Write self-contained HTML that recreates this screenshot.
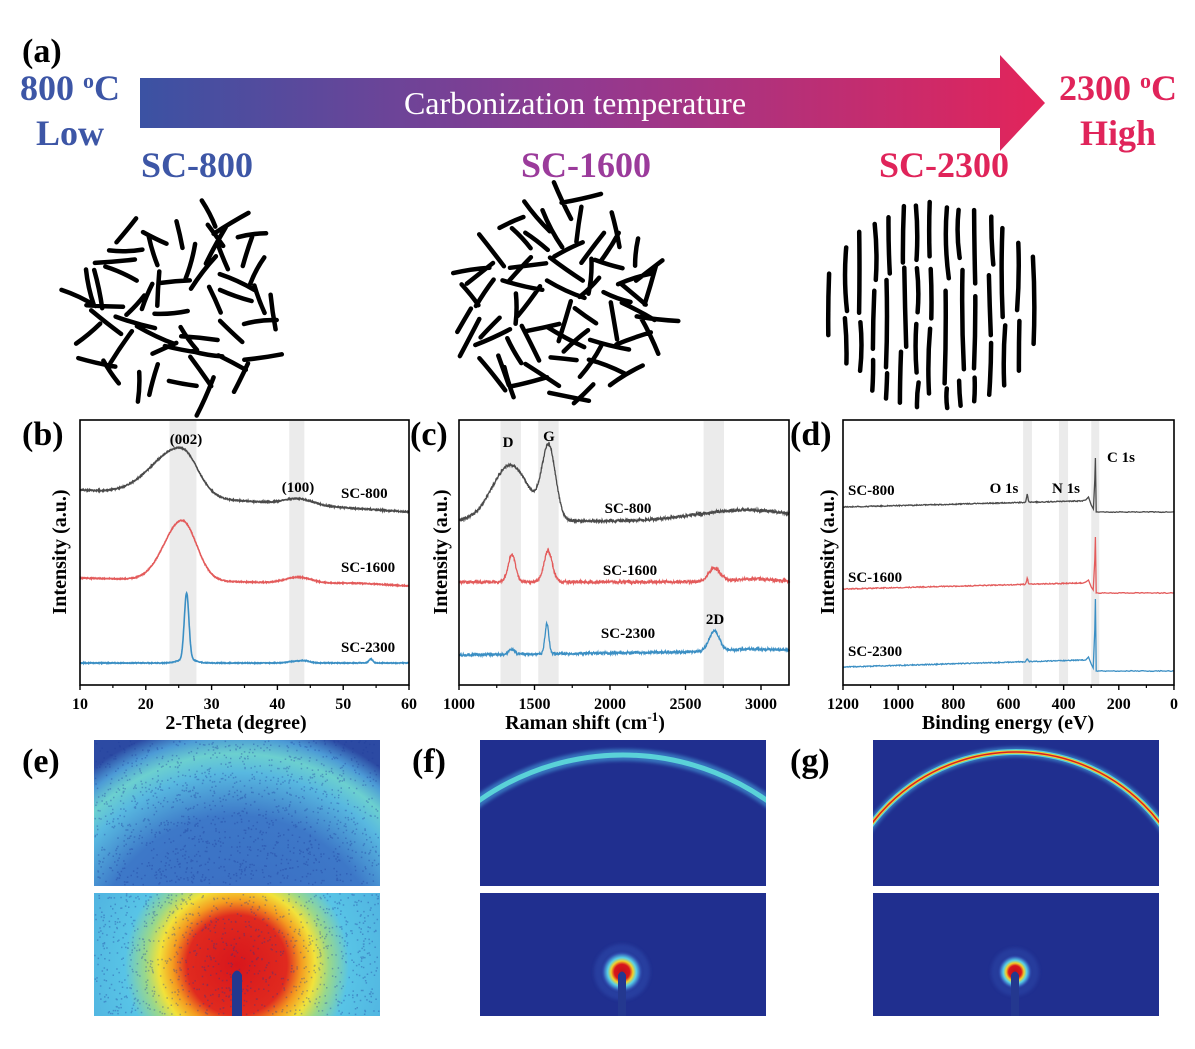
<!DOCTYPE html>
<html><head><meta charset="utf-8"><style>
html,body{margin:0;padding:0;background:#fff;width:1195px;height:1049px;overflow:hidden}
svg{display:block}
svg text{font-family:"Liberation Serif",serif;font-weight:bold}
</style></head><body>
<svg id="s" width="1195" height="1049" viewBox="0 0 1195 1049" xmlns="http://www.w3.org/2000/svg">
<defs>
<linearGradient id="ag" x1="140" x2="1045" y1="0" y2="0" gradientUnits="userSpaceOnUse">
<stop offset="0" stop-color="#3b52a3"/><stop offset="0.5" stop-color="#93398f"/><stop offset="1" stop-color="#e3245a"/></linearGradient>
<radialGradient id="eTop" cx="237" cy="960" r="240" gradientUnits="userSpaceOnUse">
<stop offset="0" stop-color="#3a68c0"/><stop offset="0.6" stop-color="#3d78c8"/><stop offset="0.78" stop-color="#58b8e0"/><stop offset="0.86" stop-color="#6cd0cf"/><stop offset="0.93" stop-color="#4c9ad6"/><stop offset="1" stop-color="#2c4aa3"/></radialGradient>
<radialGradient id="eBot" cx="237" cy="965" r="200" gradientUnits="userSpaceOnUse">
<stop offset="0" stop-color="#d8161c"/><stop offset="0.25" stop-color="#e02a1f"/><stop offset="0.32" stop-color="#f49a20"/><stop offset="0.39" stop-color="#f2e23a"/><stop offset="0.46" stop-color="#9ad88a"/><stop offset="0.56" stop-color="#58c4e6"/><stop offset="1" stop-color="#4ba6dc"/></radialGradient>
<radialGradient id="spot" cx="0.5" cy="0.5" r="0.5">
<stop offset="0" stop-color="#c0101a"/><stop offset="0.35" stop-color="#d8161c"/><stop offset="0.5" stop-color="#f2d22a"/><stop offset="0.65" stop-color="#58d0e8"/><stop offset="0.85" stop-color="#3050b0"/><stop offset="1" stop-color="#1f2f8e" stop-opacity="0"/></radialGradient>
<filter id="bl"><feGaussianBlur stdDeviation="1.5"/></filter>
<clipPath id="cf"><rect x="480" y="740" width="286" height="146"/></clipPath>
<clipPath id="cg"><rect x="873" y="740" width="286" height="146"/></clipPath>
</defs>
<g id="root"></g>
</svg>
<script>
(function(){
var r=document.getElementById('root');var h='';
var seed=12345;function rnd(){seed|=0;seed=seed+0x6D2B79F5|0;var t=Math.imul(seed^seed>>>15,1|seed);t=t+Math.imul(t^t>>>7,61|t)^t;return((t^t>>>14)>>>0)/4294967296;}
function P(a){return 'M'+a.map(function(p){return p[0].toFixed(1)+','+p[1].toFixed(1)}).join('L');}
function g(x,c,hh,s){return hh*Math.exp(-(x-c)*(x-c)/(2*s*s));}
function T(x,y,s,txt,fs,anc,fill,extra){h+='<text x="'+x+'" y="'+y+'" font-size="'+fs+'" text-anchor="'+(anc||'start')+'" fill="'+(fill||'#000')+'" '+(extra||'')+'>'+txt+'</text>';}
h+='<path d="M140,78 L1000,78 L1000,55 L1045,103 L1000,151 L1000,128 L140,128 Z" fill="url(#ag)"/>';
T(575,114,0,'Carbonization temperature',32,'middle','#fff','style="font-weight:normal"');
T(70,100,0,'800 <tspan font-size="22" dy="-12">o</tspan><tspan dy="12">C</tspan>',36,'middle','#3d56a6');
T(70,145,0,'Low',36,'middle','#3d56a6');
T(1118,100,0,'2300 <tspan font-size="22" dy="-12">o</tspan><tspan dy="12">C</tspan>',36,'middle','#e0245a');
T(1118,145,0,'High',36,'middle','#e0245a');
T(22,62,0,'(a)',34,'start');
T(197,177,0,'SC-800',36,'middle','#3d56a6');
T(586,177,0,'SC-1600',36,'middle','#9b3b9b');
T(944,177,0,'SC-2300',36,'middle','#e0245a');
function blob(cx,cy,R,sp){var s='';for(var y=cy-R;y<=cy+R;y+=sp){for(var x=cx-R;x<=cx+R;x+=sp){var px=x+(rnd()-0.5)*sp*0.8,py=y+(rnd()-0.5)*sp*0.8;var dx=px-cx,dy=py-cy;if(dx*dx+dy*dy>(R-18)*(R-18))continue;var a=rnd()*Math.PI,L=26+rnd()*16;var c=Math.cos(a)*L/2,d=Math.sin(a)*L/2;var bx=-d*0.15*(rnd()-0.5)*2,by=c*0.15*(rnd()-0.5)*2;s+='M'+(px-c).toFixed(1)+','+(py-d).toFixed(1)+'Q'+(px+bx).toFixed(1)+','+(py+by).toFixed(1)+' '+(px+c).toFixed(1)+','+(py+d).toFixed(1);}}return s;}
h+='<path d="'+blob(178,302,122,25)+'" stroke="#000" stroke-width="4.5" stroke-linecap="round" fill="none"/>';
h+='<path d="'+blob(565,298,124,24)+'" stroke="#000" stroke-width="4.5" stroke-linecap="round" fill="none"/>';
var s3='';for(var x=830;x<=1045;x+=14.5){var dx=x-935;var hw=110*110-dx*dx;if(hw<100)continue;hw=Math.sqrt(hw)*0.95;var y=304-hw+rnd()*8;while(y<304+hw-15){var L=40+rnd()*60;var y2=Math.min(y+L,304+hw);var xo=x+(rnd()-0.5)*4;s3+='M'+xo.toFixed(1)+','+y.toFixed(1)+'Q'+(xo+(rnd()-0.5)*6).toFixed(1)+','+((y+y2)/2).toFixed(1)+' '+(xo-2+rnd()*4).toFixed(1)+','+y2.toFixed(1);y=y2+5+rnd()*8;}}
h+='<path d="'+s3+'" stroke="#000" stroke-width="4.5" stroke-linecap="round" fill="none"/>';
function axes(x0,x1,ticks,minor,X,labels){var y0=420,y1=685;h+='<rect x="'+x0+'" y="'+y0+'" width="'+(x1-x0)+'" height="'+(y1-y0)+'" fill="none" stroke="#000" stroke-width="1.6"/>';
ticks.forEach(function(t,i){var x=X(t);h+='<line x1="'+x+'" x2="'+x+'" y1="'+y1+'" y2="'+(y1+5)+'" stroke="#000" stroke-width="1.4"/>';T(x,709,0,labels[i],16,'middle');});
minor.forEach(function(t){var x=X(t);h+='<line x1="'+x+'" x2="'+x+'" y1="'+y1+'" y2="'+(y1+3)+'" stroke="#000" stroke-width="1.2"/>';});}
function band(X,a,b){var xa=X(a),xb=X(b);h+='<rect x="'+Math.min(xa,xb)+'" y="421" width="'+Math.abs(xb-xa)+'" height="263" fill="#ebebeb"/>';}
var Xb=function(t){return 80+(t-10)*6.58};
band(Xb,23.6,27.7);band(Xb,41.8,44.1);
var c1=[],c2=[],c3=[];
for(var t=10;t<=60;t+=0.05){var n=function(a){return (rnd()-0.5)*a};
var s8=t<25.3?4.3:2.5;c1.push([Xb(t),490+(t-10)*0.44-g(t,25.3,49,s8)-g(t,43.2,6,2.2)+n(1.2)]);
var s6=t<25.5?2.7:2.2;c2.push([Xb(t),578+(t-10)*0.16-g(t,25.5,60,s6)-g(t,43.2,6,2)-g(t,52,1.5,4)+n(1)]);
c3.push([Xb(t),663-g(t,26.2,66,0.35)-g(t,26.2,4,1.2)-g(t,42.5,1.5,1)-g(t,44.2,2,0.8)-g(t,54.2,4,0.3)+n(0.8)]);}
h+='<path d="'+P(c1)+'" stroke="#4a4a4a" stroke-width="1.6" fill="none"/>';
h+='<path d="'+P(c2)+'" stroke="#e35b5b" stroke-width="1.6" fill="none"/>';
h+='<path d="'+P(c3)+'" stroke="#3b8fc4" stroke-width="1.6" fill="none"/>';
axes(80,409,[10,20,30,40,50,60],[15,25,35,45,55],Xb,['10','20','30','40','50','60']);
T(186,444,0,'(002)',15,'middle');T(298,492,0,'(100)',15,'middle');
T(341,498,0,'SC-800',15);T(341,572,0,'SC-1600',15);T(341,652,0,'SC-2300',15);
T(236,729,0,'2-Theta (degree)',20,'middle');
T(0,0,0,'Intensity (a.u.)',20,'middle','#000','transform="translate(66,552) rotate(-90)"');
T(22,445,0,'(b)',34);
var Xc=function(w){return 459+(w-1000)*0.151};
band(Xc,1275,1410);band(Xc,1525,1660);band(Xc,2620,2755);
c1=[];c2=[];c3=[];
for(var w=1000;w<=3190;w+=2){var n=function(a){return (rnd()-0.5)*a};
c1.push([Xc(w),521-g(w,2900,11,320)-g(w,1340,56,120)-g(w,1595,71,45)+n(3)]);
c2.push([Xc(w),582-g(w,1350,27,25)-g(w,1590,31,28)-g(w,2690,13,40)-g(w,2950,3,150)+n(3)]);
c3.push([Xc(w),655-(w-1000)*0.002-g(w,1350,5,20)-g(w,1582,30,13)-g(w,2690,20,35)-g(w,2950,2,150)+n(2.6)]);}
h+='<path d="'+P(c1)+'" stroke="#4a4a4a" stroke-width="1.3" fill="none"/>';
h+='<path d="'+P(c2)+'" stroke="#e35b5b" stroke-width="1.3" fill="none"/>';
h+='<path d="'+P(c3)+'" stroke="#3b8fc4" stroke-width="1.3" fill="none"/>';
axes(459,789,[1000,1500,2000,2500,3000],[1250,1750,2250,2750],Xc,['1000','1500','2000','2500','3000']);
T(508,447,0,'D',15,'middle');T(549,441,0,'G',15,'middle');T(715,624,0,'2D',15,'middle');
T(628,513,0,'SC-800',15,'middle');T(630,575,0,'SC-1600',15,'middle');T(628,638,0,'SC-2300',15,'middle');
T(585,729,0,'Raman shift (cm<tspan font-size="13" dy="-8">-1</tspan><tspan dy="8">)</tspan>',20,'middle');
T(0,0,0,'Intensity (a.u.)',20,'middle','#000','transform="translate(447,552) rotate(-90)"');
T(410,445,0,'(c)',34);
var Xd=function(e){return 843+(1200-e)*0.2758};
band(Xd,547,515);band(Xd,417,384);band(Xd,300,271);
function xps(y0,slope,op,pts,flat){var a=[];for(var e=1200;e>=330;e-=2){a.push([Xd(e),y0-(1200-e)*slope-g(e,532,op,2.5)+(rnd()-0.5)*1]);}pts.forEach(function(p){a.push([Xd(p[0]),p[1]]);});for(var e=280;e>=0;e-=4){a.push([Xd(e),flat+(rnd()-0.5)*0.8]);}return a;}
c1=xps(507,0.007,8,[[320,500],[310,497],[300,505],[292,509],[287,480],[285,458],[283,490],[282,512]],512);
c2=xps(589,0.007,6,[[320,582],[310,580],[300,587],[293,590],[287,560],[285,537],[283,570],[282,593]],593);
c3=xps(667,0.008,3,[[320,660],[310,657],[300,664],[293,668],[287,630],[285,599],[283,640],[282,671]],671);
h+='<path d="'+P(c1)+'" stroke="#4a4a4a" stroke-width="1.3" fill="none"/>';
h+='<path d="'+P(c2)+'" stroke="#e35b5b" stroke-width="1.3" fill="none"/>';
h+='<path d="'+P(c3)+'" stroke="#3b8fc4" stroke-width="1.3" fill="none"/>';
axes(843,1174,[1200,1000,800,600,400,200,0],[1100,900,700,500,300,100],Xd,['1200','1000','800','600','400','200','0']);
T(1107,462,0,'C 1s',15);T(1004,493,0,'O 1s',15,'middle');T(1066,493,0,'N 1s',15,'middle');
T(848,495,0,'SC-800',15);T(848,582,0,'SC-1600',15);T(848,656,0,'SC-2300',15);
T(1008,729,0,'Binding energy (eV)',20,'middle');
T(0,0,0,'Intensity (a.u.)',20,'middle','#000','transform="translate(834,552) rotate(-90)"');
T(790,445,0,'(d)',34);
T(22,772,0,'(e)',34);T(412,772,0,'(f)',34);T(790,772,0,'(g)',34);
h+='<rect x="94" y="740" width="286" height="146" fill="url(#eTop)"/>';
h+='<rect x="94" y="893" width="286" height="123" fill="url(#eBot)"/>';
// speckle noise
var sp='';for(var i=0;i<2500;i++){var x=94+rnd()*284,y=rnd()<0.55?740+rnd()*144:893+rnd()*121;sp+='M'+x.toFixed(1)+','+y.toFixed(1)+'h1.5v1.5h-1.5z';}
h+='<path d="'+sp+'" fill="#1e3a9a" opacity="0.35"/>';
h+='<path d="M232,1016 L232,975 Q237,966 242,975 L242,1016 Z" fill="#24388f"/>';
h+='<rect x="480" y="740" width="286" height="146" fill="#202f8f"/>';
h+='<g clip-path="url(#cf)"><circle cx="623" cy="1005" r="250" fill="none" stroke="#3f8fd0" stroke-width="12" filter="url(#bl)" opacity="0.7"/><circle cx="623" cy="1005" r="250" fill="none" stroke="#5ad2d8" stroke-width="5"/></g>';
h+='<rect x="480" y="893" width="286" height="123" fill="#202f8f"/>';
h+='<circle cx="622" cy="972" r="28" fill="#2a44a6" opacity="0.7" filter="url(#bl)"/>';
h+='<circle cx="622" cy="972" r="22" fill="url(#spot)"/>';
h+='<path d="M618,1016 L618,975 Q622,968 626,975 L626,1016 Z" fill="#24388f"/>';
h+='<rect x="873" y="740" width="286" height="146" fill="#202f8f"/>';
h+='<g clip-path="url(#cg)"><circle cx="1016" cy="933" r="181" fill="none" stroke="#3f8fd0" stroke-width="10" filter="url(#bl)" opacity="0.7"/><circle cx="1016" cy="933" r="181" fill="none" stroke="#58d0d8" stroke-width="6"/><circle cx="1016" cy="933" r="181" fill="none" stroke="#f0d030" stroke-width="3.5"/><circle cx="1016" cy="933" r="181" fill="none" stroke="#d82020" stroke-width="1.5"/></g>';
h+='<rect x="873" y="893" width="286" height="123" fill="#202f8f"/>';
h+='<circle cx="1015" cy="972" r="24" fill="#2a44a6" opacity="0.6" filter="url(#bl)"/>';
h+='<circle cx="1015" cy="972" r="18" fill="url(#spot)"/>';
h+='<path d="M1011,1016 L1011,975 Q1015,968 1019,975 L1019,1016 Z" fill="#24388f"/>';
r.innerHTML=h;
})();
</script>
</body></html>
